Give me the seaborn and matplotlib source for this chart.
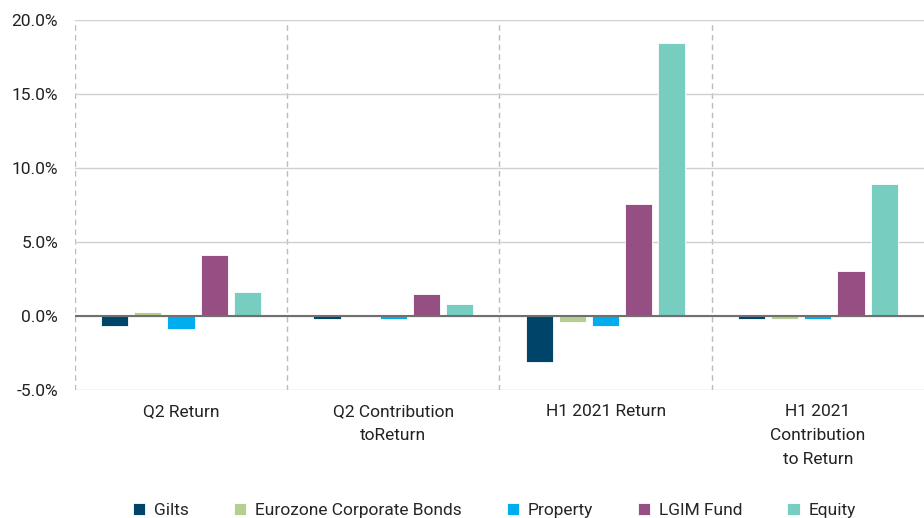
import pandas as pd
import matplotlib.pyplot as plt
import seaborn as sns

# categories and series values (%)
categories = ["Q2 Return", "Q2 Contribution\ntoReturn", "H1 2021 Return",
              "H1 2021\nContribution\nto Return"]
series = ["Gilts", "Eurozone Corporate Bonds", "Property", "LGIM Fund", "Equity"]

gilts = [-0.7, -0.2, -3.1, -0.2]
eurozone = [0.3, 0.1, -0.4, -0.2]
property_ = [-0.9, -0.2, -0.7, -0.2]
lgim = [4.1, 1.5, 7.55, 3.05]
equity = [1.65, 0.8, 18.45, 8.9]

colors = ["#00446a", "#b5cf8e", "#00aeef", "#964f82", "#76cdc0"]

rows = []
for name, vals in zip(series, [gilts, eurozone, property_, lgim, equity]):
    for cat, v in zip(categories, vals):
        rows.append({"Category": cat, "Series": name, "Value": v})
df = pd.DataFrame(rows)

sns.set_theme(style="white")
plt.rcParams["font.family"] = ["Roboto", "DejaVu Sans"]

fig = plt.figure(figsize=(9.24, 5.18), dpi=100)
ax = fig.add_axes([0.081, 0.247, 0.919, 0.714])

sns.barplot(data=df, x="Category", y="Value", hue="Series", order=categories,
            hue_order=series, palette=colors, width=0.78, gap=0.18,
            saturation=1, edgecolor="white", linewidth=0.6, ax=ax, legend=True)

ax.set_ylim(-5, 20)
ax.set_yticks([-5, 0, 5, 10, 15, 20])
ax.set_yticklabels([f"{t:.1f}%" for t in [-5, 0, 5, 10, 15, 20]], fontsize=12.5,
                   color="#222222")
ax.set_xlim(-0.5, 3.5)
ax.tick_params(axis="x", labelsize=12.5, colors="#222222", length=0, pad=10)
for lbl in ax.get_xticklabels():
    lbl.set_linespacing(1.75)
ax.tick_params(axis="y", length=0, pad=12)
ax.set_xlabel("")
ax.set_ylabel("")
for s in ax.spines.values():
    s.set_visible(False)

ax.set_axisbelow(True)
ax.yaxis.grid(True, color="#d0d0d0", linewidth=1)
ax.axhline(0, color="#707070", linewidth=1.5, zorder=3)
for x in [-0.5, 0.5, 1.5, 2.5]:
    ax.axvline(x, color="#bbbbbb", linestyle=(0, (4, 3)), linewidth=1, zorder=0)

handles, labels = ax.get_legend_handles_labels()
ax.get_legend().remove()
fig.legend(handles, labels, loc="lower center", bbox_to_anchor=(0.535, -0.03),
           ncol=5, frameon=False, fontsize=12.5, handlelength=0.7, handleheight=0.7,
           columnspacing=2.6, handletextpad=0.5)

fig.savefig("out.png", dpi=100)
